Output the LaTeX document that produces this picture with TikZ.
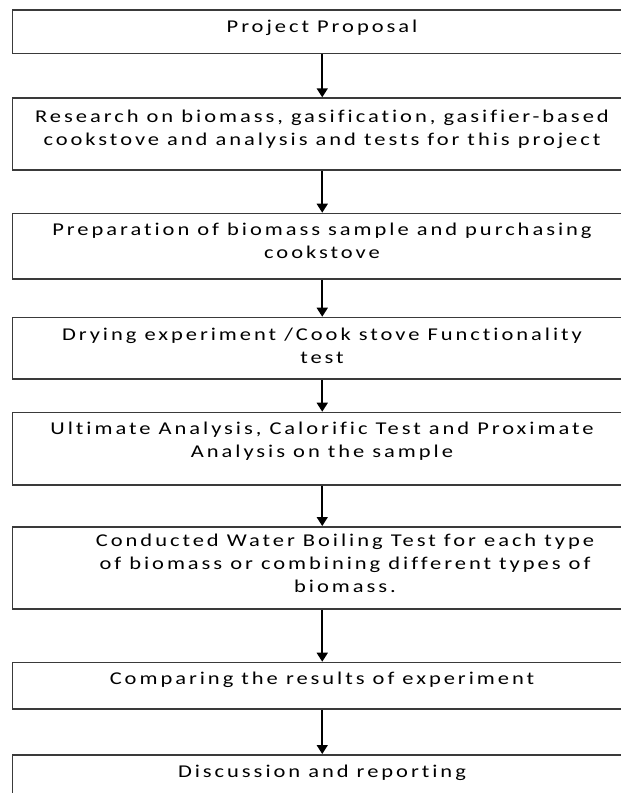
\documentclass[tikz,border=0pt]{standalone}
\usepackage{fontspec}
\setmainfont{Carlito}[LetterSpace=16.5, FakeStretch=1.25, Ligatures=NoCommon]
\usetikzlibrary{arrows.meta}
\definecolor{boxgray}{HTML}{3A3A3A}
\begin{document}
\begin{tikzpicture}[x=1pt,y=-1pt,
  box/.style={draw=boxgray, line width=1.6pt, rectangle, minimum width=619.5pt, inner sep=0pt, anchor=north},
  lbl/.style={font=\fontsize{18}{23}\selectfont, align=center, anchor=base, inner sep=0pt},
  flow/.style={-{Triangle[width=11pt,length=9pt]}, line width=1.6pt}]
\useasboundingbox (0,0) rectangle (621,793);
\clip (0,0) rectangle (621,793);
\node[box, minimum height=43.4pt] (b1) at (322.25,9.3) {};
\node[box, minimum height=72pt]   (b2) at (322.25,97.3) {};
\node[box, minimum height=65.6pt] (b3) at (322.25,212.7) {};
\node[box, minimum height=61.6pt] (b4) at (322.25,316.7) {};
\node[box, minimum height=72.6pt] (b5) at (322.25,411.7) {};
\node[box, minimum height=82.3pt] (b6) at (322.25,526) {};
\node[box, minimum height=46.6pt] (b7) at (322.25,661.7) {};
\node[box, minimum height=60pt]   (b8) at (322.25,754) {};
% anchor=base of a multi-line label is the baseline of its last line
\node[lbl] (t1) at (322,32.3) {Project Proposal};
\node[lbl] (t2) at (322,145) {Research on biomass, gasification, gasifier-based\\cookstove and analysis and tests for this project};
\node[lbl] (t3) at (322,258.5) {Preparation of biomass sample and purchasing\\cookstove};
\node[lbl] (t4) at (322,363) {Drying experiment /Cook stove Functionality\\test};
\node[lbl] (t5) at (322,457.5) {Ultimate Analysis, Calorific Test and Proximate\\Analysis on the sample};
\node[lbl] (t6) at (345,592) {Conducted Water Boiling Test for each type\\of biomass or combining different types of\\biomass.};
\node[lbl] (t7) at (322,684) {Comparing the results of experiment};
\node[lbl] (t8) at (322,777) {Discussion and reporting};
\draw[flow] (b1.south) -- (b2.north);
\draw[flow] (b2.south) -- (b3.north);
\draw[flow] (b3.south) -- (b4.north);
\draw[flow] (b4.south) -- (b5.north);
\draw[flow] (b5.south) -- (b6.north);
\draw[flow] (b6.south) -- (b7.north);
\draw[flow] (b7.south) -- (b8.north);
\end{tikzpicture}
\end{document}
